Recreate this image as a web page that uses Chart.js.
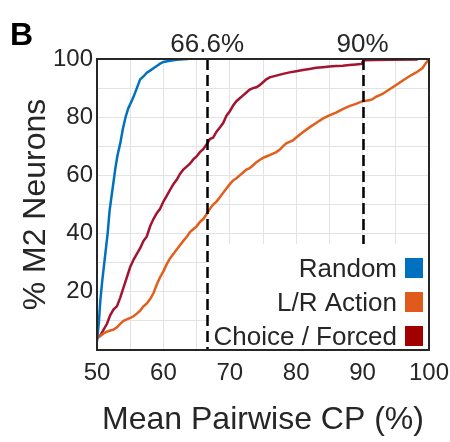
<!DOCTYPE html>
<html>
<head>
<meta charset="utf-8">
<script src="https://cdn.jsdelivr.net/npm/chart.js@4/dist/chart.umd.min.js"></script>
<style>
  html, body { margin: 0; padding: 0; background: #fff; }
  #wrap { width: 450px; height: 442px; }
</style>
</head>
<body>
<div id="wrap"><canvas id="chart" width="450" height="442"></canvas></div>
<script>
// cumulative curves: mean pairwise CP (%) vs % of M2 neurons
const randomCP  = [50.0, 50.3, 50.5, 50.8, 51.0, 51.3, 51.6, 51.9, 52.2, 52.5, 52.8, 53.1, 53.5, 53.9, 54.3, 54.7, 55.1, 55.5, 56.0, 56.5, 57.0, 57.5, 58.0, 58.5, 59.0, 59.5, 60.0, 61.0, 62.0, 63.0, 63.7];
const randomPct = [3, 10, 17, 24, 28, 34, 40, 48, 53, 58, 63, 67, 71, 76, 80, 83, 85, 87, 90, 93, 94, 95.3, 96, 96.8, 97.6, 98.4, 99, 99.4, 99.7, 99.9, 100];

const actionCP  = [50.0, 50.5, 51.0, 51.5, 52.0, 52.5, 53.0, 53.5, 54.0, 54.5, 55.0, 55.5, 56.0, 56.5, 57.0, 57.5, 58.0, 58.5, 59.0, 59.5, 60.0, 60.5, 61.0, 61.5, 62.0, 62.5, 63.0, 63.5, 64.0, 64.5, 65.0, 65.5, 66.0, 66.6, 67.0, 67.5, 68.0, 68.5, 69.0, 69.5, 70.0, 70.5, 71.0, 71.5, 72.0, 72.5, 73.0, 73.5, 74.0, 74.5, 75.0, 75.5, 76.0, 77.0, 77.5, 78.0, 78.5, 79.0, 79.5, 80.0, 81.0, 82.0, 83.0, 84.0, 85.0, 86.0, 87.0, 88.0, 89.0, 90.0, 91.0, 91.5, 92.0, 93.0, 94.0, 95.0, 96.0, 97.0, 98.0, 99.0, 99.5, 100.0];
const actionPct = [4, 4.8, 5.7, 6.3, 6.7, 7, 7.8, 9, 10, 10.5, 11, 11.6, 12.5, 13.5, 15, 16, 17.5, 19.5, 22.5, 25, 27, 29.5, 31.5, 33, 34.5, 36, 37.5, 38.8, 40.5, 41.5, 42.5, 44, 45, 47, 48.5, 50, 51, 52.5, 54, 55.5, 57, 58.3, 59, 60, 61, 62, 62.5, 63.5, 64.5, 65.3, 66, 66.5, 67, 68, 68.8, 70, 71, 71.5, 72, 73, 74.8, 76.5, 78, 79.5, 80.6, 81.6, 82.8, 83.8, 84.6, 85.5, 85.8, 86.2, 87, 88, 89.5, 91, 92.5, 94, 95.3, 96.8, 98.5, 100];

const choiceCP  = [50.0, 50.5, 51.0, 51.5, 52.0, 52.5, 53.0, 53.5, 54.0, 54.5, 55.0, 55.5, 56.0, 56.5, 57.0, 57.5, 58.0, 58.5, 59.0, 59.5, 60.0, 60.5, 61.0, 61.5, 62.0, 62.5, 63.0, 63.5, 64.0, 64.5, 65.0, 65.5, 66.0, 66.6, 67.0, 67.5, 68.0, 68.5, 69.0, 69.5, 70.0, 70.5, 71.0, 71.5, 72.0, 72.5, 73.0, 73.5, 74.0, 74.5, 75.0, 75.5, 76.0, 77.0, 78.0, 79.0, 80.0, 81.0, 82.0, 83.0, 84.0, 85.0, 86.0, 87.0, 88.0, 89.0, 89.9, 90.1, 94.0, 98.3];
const choicePct = [4, 5, 7, 9, 12, 14, 15, 18, 21.5, 25, 28.5, 31, 33, 35, 37.5, 39, 42.5, 45, 47, 48.5, 51, 53, 55, 57, 58.5, 60.5, 62, 63, 64, 65.5, 66.5, 68, 69, 71, 72.5, 73, 75, 76.5, 78, 80.5, 82, 84, 85.5, 86.5, 87.5, 88.5, 89.5, 90, 90.3, 91, 92, 93, 93.7, 94.3, 94.9, 95.4, 95.8, 96.2, 96.6, 97, 97.2, 97.4, 97.6, 97.7, 97.9, 98.1, 98.3, 99.6, 99.7, 99.8];

const seriesNames  = ['Random', 'L/R Action', 'Choice / Forced'];
const lineColors   = ['#0072bd', '#e35d1b', '#a2142f'];
const legendColors = ['#0070c0', '#e05a1c', '#a00000'];

// vertical reference lines and their labels
const markerCP     = [66.6, 90];
const markerLabels = ['66.6%', '90%'];

const xTickValues = [50, 60, 70, 80, 90, 100];
const yTickValues = [20, 40, 60, 80, 100];

const textColor = '#262626';
const fontFamily = '"Liberation Sans", Arial, Helvetica, sans-serif';

function toPoints(xs, ys) {
    return xs.map((x, i) => ({ x: x, y: ys[i] }));
}

// draws the dashed markers, legend box, axes frame and panel letter
const extrasPlugin = {
    id: 'extras',
    afterDraw(chart) {
        const ctx = chart.ctx;
        const area = chart.chartArea;
        const xs = chart.scales.x;

        ctx.save();
        // dashed markers
        ctx.strokeStyle = '#000';
        ctx.lineWidth = 2.5;
        ctx.setLineDash([11, 5]);
        markerCP.forEach(v => {
            const px = Math.round(xs.getPixelForValue(v)) + 0.5;
            ctx.beginPath();
            ctx.moveTo(px, area.top);
            ctx.lineTo(px, area.bottom);
            ctx.stroke();
        });
        ctx.setLineDash([]);

        // marker labels above the plot
        ctx.fillStyle = textColor;
        ctx.font = '26px ' + fontFamily;
        ctx.textAlign = 'center';
        ctx.textBaseline = 'alphabetic';
        markerCP.forEach((v, i) => {
            ctx.fillText(markerLabels[i], xs.getPixelForValue(v), area.top - 7);
        });

        // legend, white box in the lower right corner
        ctx.fillStyle = '#fff';
        ctx.fillRect(area.right - 219, area.bottom - 106, 219, 106);
        ctx.font = '26px ' + fontFamily;
        ctx.textAlign = 'right';
        seriesNames.forEach((name, i) => {
            const base = area.bottom - 73 + i * 34;
            ctx.fillStyle = textColor;
            ctx.fillText(name, area.right - 32, base);
            ctx.fillStyle = legendColors[i];
            ctx.fillRect(area.right - 24, base - 19, 18, 20);
        });

        // axes box
        ctx.strokeStyle = '#262626';
        ctx.lineWidth = 2;
        ctx.strokeRect(area.left, area.top, area.right - area.left, area.bottom - area.top);

        // panel letter
        ctx.fillStyle = '#000';
        ctx.font = 'bold 32px ' + fontFamily;
        ctx.textAlign = 'left';
        ctx.fillText('B', 10, 45);
        ctx.restore();
    }
};

new Chart(document.getElementById('chart'), {
    type: 'line',
    data: {
        datasets: [
            { label: seriesNames[0], data: toPoints(randomCP, randomPct), borderColor: lineColors[0] },
            { label: seriesNames[1], data: toPoints(actionCP, actionPct), borderColor: lineColors[1] },
            { label: seriesNames[2], data: toPoints(choiceCP, choicePct), borderColor: lineColors[2] }
        ]
    },
    options: {
        responsive: false,
        animation: false,
        events: [],
        elements: {
            point: { radius: 0 },
            line: { borderWidth: 2.5, tension: 0, fill: false }
        },
        layout: { padding: { top: 59, right: 21, left: 0, bottom: 0 } },
        plugins: {
            legend: { display: false },
            tooltip: { enabled: false }
        },
        scales: {
            x: {
                type: 'linear',
                min: 50,
                max: 100,
                border: { display: false },
                grid: { color: '#e3e3e3', lineWidth: 1, drawTicks: false },
                ticks: {
                    stepSize: 5,
                    autoSkip: false,
                    maxRotation: 0,
                    padding: 9,
                    color: textColor,
                    font: { family: fontFamily, size: 24 },
                    callback: v => xTickValues.includes(v) ? String(v) : ''
                },
                title: {
                    display: true,
                    text: 'Mean Pairwise CP (%)',
                    color: textColor,
                    font: { family: fontFamily, size: 32 },
                    padding: { top: 0, bottom: 3 }
                },
                afterFit: scale => {
                    scale.height = 92;
                    scale.paddingLeft = 0;
                    scale.paddingRight = 0;
                }
            },
            y: {
                type: 'linear',
                min: 0,
                max: 100,
                border: { display: false },
                grid: { color: '#e3e3e3', lineWidth: 1, drawTicks: false },
                ticks: {
                    stepSize: 10,
                    autoSkip: false,
                    padding: 4,
                    color: textColor,
                    font: { family: fontFamily, size: 24 },
                    callback: v => yTickValues.includes(v) ? String(v) : ''
                },
                title: {
                    display: true,
                    text: '% M2 Neurons',
                    color: textColor,
                    font: { family: fontFamily, size: 32 },
                    padding: { top: 17, bottom: 0 }
                },
                afterFit: scale => {
                    scale.width = 97;
                    scale.paddingTop = 0;
                    scale.paddingBottom = 0;
                }
            }
        }
    },
    plugins: [extrasPlugin]
});
</script>
</body>
</html>
